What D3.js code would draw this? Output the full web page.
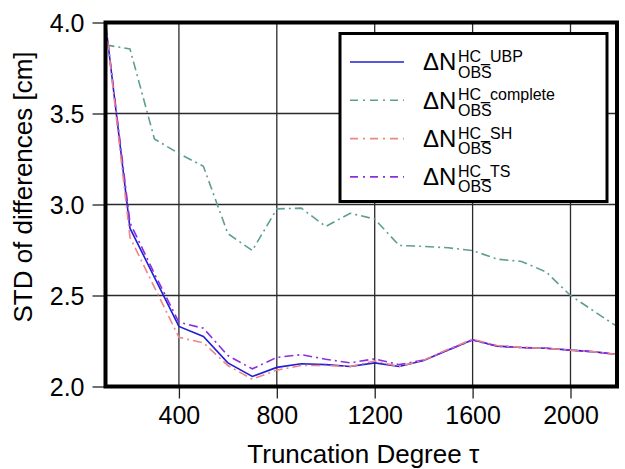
<!DOCTYPE html>
<html>
<head>
<meta charset="utf-8">
<script src="https://cdn.jsdelivr.net/npm/d3@7"></script>
<style>
  body { margin: 0; background: #fff; }
  text { font-family: "Liberation Sans", Arial, sans-serif; fill: #000; }
</style>
</head>
<body>
<div id="chart"></div>
<script>
var chart_width = 625;
var chart_height = 469;

// Data
var degrees = [100, 200, 300, 400, 500, 600, 700, 800, 900, 1000, 1100,
               1200, 1300, 1400, 1500, 1600, 1700, 1800, 1900, 2000, 2100, 2190];
var std_ubp = [4.00, 2.87, 2.60, 2.33, 2.275, 2.13, 2.055, 2.105, 2.125, 2.12, 2.11,
               2.13, 2.11, 2.143, 2.2, 2.257, 2.222, 2.214, 2.21, 2.2, 2.19, 2.176];
var std_complete = [3.877, 3.855, 3.36, 3.28, 3.21, 2.84, 2.747, 2.976, 2.98, 2.879, 2.952,
                    2.92, 2.775, 2.77, 2.762, 2.747, 2.70, 2.687, 2.63, 2.50, 2.41, 2.33];
var std_sh = [4.00, 2.82, 2.545, 2.27, 2.24, 2.115, 2.04, 2.09, 2.115, 2.115, 2.11,
              2.14, 2.11, 2.145, 2.205, 2.26, 2.225, 2.215, 2.21, 2.2, 2.19, 2.176];
var std_ts = [4.00, 2.90, 2.62, 2.353, 2.32, 2.17, 2.097, 2.16, 2.175, 2.15, 2.13,
              2.152, 2.12, 2.145, 2.2, 2.255, 2.222, 2.214, 2.21, 2.2, 2.19, 2.176];
var x_ticks = [400, 800, 1200, 1600, 2000];
var y_ticks = [2.0, 2.5, 3.0, 3.5, 4.0];
var series_names = ['UBP', 'complete', 'SH', 'TS'];

var series = [
    { name: 'complete', values: std_complete, color: '#5f9d95', dash: '9,4,2,4' },
    { name: 'UBP', values: std_ubp, color: '#1f1fd6', dash: null },
    { name: 'TS', values: std_ts, color: '#8a2fe0', dash: '9,4,2,4' },
    { name: 'SH', values: std_sh, color: '#f08585', dash: '9,4,2,4' }
];

var margin = { left: 105.5, top: 22.5, right: 8, bottom: 82.5 };

var svg = d3.select('#chart')
            .append('svg')
            .attr('width', chart_width)
            .attr('height', chart_height);

//Scales
var x_scale = d3.scaleLinear()
                .domain([100, 2190])
                .range([margin.left, chart_width - margin.right]);

var y_scale = d3.scaleLinear()
                .domain([2.0, 4.0])
                .range([chart_height - margin.bottom, margin.top]);

var x0 = x_scale.range()[0], x1 = x_scale.range()[1];
var y0 = y_scale.range()[0], y1 = y_scale.range()[1];

//Grid
svg.append('g')
    .selectAll('line')
    .data(x_ticks)
    .enter()
    .append('line')
    .attr('x1', (d) => x_scale(d))
    .attr('x2', (d) => x_scale(d))
    .attr('y1', y1)
    .attr('y2', y0)
    .attr('stroke', '#2a2a2a')
    .attr('stroke-width', 1.3);

svg.append('g')
    .selectAll('line')
    .data(y_ticks)
    .enter()
    .append('line')
    .attr('x1', x0)
    .attr('x2', x1)
    .attr('y1', (d) => y_scale(d))
    .attr('y2', (d) => y_scale(d))
    .attr('stroke', '#2a2a2a')
    .attr('stroke-width', 1.3);

//Axes
var x_axis = d3.axisBottom(x_scale)
               .tickValues(x_ticks)
               .tickFormat(d3.format('d'))
               .tickSize(12)
               .tickPadding(8);
var y_axis = d3.axisLeft(y_scale)
               .tickValues(y_ticks)
               .tickFormat(d3.format('.1f'))
               .tickSize(13)
               .tickPadding(8);

var gx = svg.append('g')
    .attr('transform', 'translate(0,' + y0 + ')')
    .call(x_axis);
var gy = svg.append('g')
    .attr('transform', 'translate(' + x0 + ',0)')
    .call(y_axis);

[gx, gy].forEach((g) => {
    g.select('.domain').remove();
    g.selectAll('line').attr('stroke', '#222').attr('stroke-width', 1.3);
    g.selectAll('text')
        .style('font-family', '"Liberation Sans", Arial, sans-serif')
        .style('font-size', '25px')
        .attr('fill', '#111');
});
gy.selectAll('text').attr('dy', '0.36em');

//Lines
var line = d3.line()
             .x((d, i) => x_scale(degrees[i]))
             .y((d) => y_scale(d));

svg.append('defs').append('clipPath')
    .attr('id', 'clip')
    .append('rect')
    .attr('x', x0).attr('y', y1)
    .attr('width', x1 - x0).attr('height', y0 - y1);

svg.append('g')
    .attr('clip-path', 'url(#clip)')
    .selectAll('path')
    .data(series)
    .enter()
    .append('path')
    .attr('d', (d) => line(d.values))
    .attr('fill', 'none')
    .attr('stroke', (d) => d.color)
    .attr('stroke-width', 1.6)
    .attr('stroke-dasharray', (d) => d.dash);

//Frame
svg.append('rect')
    .attr('x', x0).attr('y', y1)
    .attr('width', x1 - x0).attr('height', y0 - y1)
    .attr('fill', 'none')
    .attr('stroke', '#000')
    .attr('stroke-width', 4);

//Legend
var legend = svg.append('g');
legend.append('rect')
    .attr('x', 340).attr('y', 33.5)
    .attr('width', 267).attr('height', 168)
    .attr('fill', '#fff')
    .attr('stroke', '#000')
    .attr('stroke-width', 3);

var entries = legend.selectAll('g.entry')
    .data(series_names.map((n) => series.find((s) => s.name === n)))
    .enter()
    .append('g')
    .attr('class', 'entry')
    .attr('transform', (d, i) => 'translate(0,' + (62 + i * 38.3) + ')');

entries.append('line')
    .attr('x1', 350).attr('x2', 404)
    .attr('y1', 0).attr('y2', 0)
    .attr('stroke', (d) => d.color)
    .attr('stroke-width', 1.6)
    .attr('stroke-dasharray', (d) => d.dash ? '8,5,2,5' : null);

entries.append('text')
    .attr('x', 423).attr('y', 8.3)
    .style('font-size', '24px')
    .text('\u0394N');

entries.append('text')
    .attr('x', 458).attr('y', 0)
    .style('font-size', '16px')
    .text((d) => 'HC_' + d.name);

entries.append('text')
    .attr('x', 458).attr('y', 15.6)
    .style('font-size', '16px')
    .text('OBS');

//Axis titles
svg.append('text')
    .attr('x', (x0 + x1) / 2 + 2)
    .attr('y', 463)
    .attr('text-anchor', 'middle')
    .style('font-size', '26px')
    .text('Truncation Degree \u03c4');

svg.append('text')
    .attr('transform', 'translate(32,187) rotate(-90)')
    .attr('text-anchor', 'middle')
    .style('font-size', '26px')
    .text('STD of differences [cm]');
</script>
</body>
</html>
